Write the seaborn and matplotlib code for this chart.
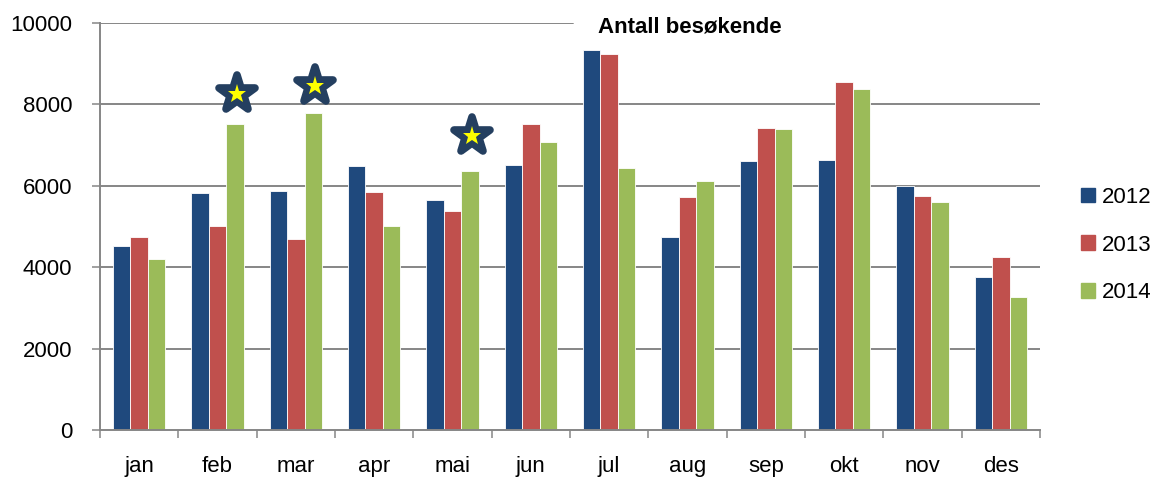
import matplotlib
matplotlib.use('Agg')
import matplotlib.pyplot as plt
from matplotlib.markers import MarkerStyle
import seaborn as sns
import pandas as pd

months = ['jan', 'feb', 'mar', 'apr', 'mai', 'jun', 'jul', 'aug', 'sep', 'okt', 'nov', 'des']
years = ['2012', '2013', '2014']
v2012 = [4520, 5830, 5860, 6480, 5650, 6500, 9330, 4750, 6620, 6630, 5990, 3760]
v2013 = [4740, 5010, 4690, 5840, 5390, 7530, 9230, 5730, 7410, 8550, 5760, 4240]
v2014 = [4200, 7530, 7800, 5000, 6370, 7070, 6440, 6120, 7390, 8390, 5600, 3280]
# stjerner over enkelte søyler (måned, høyde)
star_months = ['feb', 'mar', 'mai']
star_y = [8250, 8440, 7220]
colors = ['#1F497D', '#C0504D', '#9BBB59']
grey = '#868686'

rows = []
for yr, vals in zip(years, [v2012, v2013, v2014]):
    for m, v in zip(months, vals):
        rows.append({'måned': m, 'år': yr, 'besøkende': v})
df = pd.DataFrame(rows)

sns.set_style('white')
plt.rcParams['font.family'] = ['Liberation Sans', 'DejaVu Sans']
plt.rcParams['text.color'] = 'black'
plt.rcParams['xtick.color'] = 'black'
plt.rcParams['ytick.color'] = 'black'

fig = plt.figure(figsize=(11.58, 4.78), dpi=100)
ax = fig.add_axes([100 / 1158, 1 - 430 / 478, 940 / 1158, 407 / 478])

sns.barplot(data=df, x='måned', y='besøkende', hue='år', palette=colors, saturation=1,
            width=0.67, gap=0, edgecolor='white', linewidth=0.6, ax=ax)
ax.get_legend().remove()

ax.set_ylim(0, 10000)
ax.set_xlim(-0.5, len(months) - 0.5)
ax.set_yticks(range(0, 10001, 2000))
ax.set_xlabel('')
ax.set_ylabel('')

# rutenett
for y in range(2000, 10000, 2000):
    ax.axhline(y, color=grey, lw=1.4, zorder=0)
ax.axhline(10000, xmin=0, xmax=(573 - 100) / 940, color=grey, lw=1.4, zorder=0)

for s in ['top', 'right']:
    ax.spines[s].set_visible(False)
for s in ['left', 'bottom']:
    ax.spines[s].set_color(grey)
    ax.spines[s].set_linewidth(1.4)

ax.tick_params(axis='y', length=6, width=1.1, color=grey, pad=14, labelsize=16, left=True)
ax.set_xticks([i - 0.5 for i in range(len(months) + 1)], minor=True)
ax.tick_params(axis='x', which='minor', length=6, width=1.1, color=grey, bottom=True)
ax.tick_params(axis='x', which='major', length=0, pad=19, labelsize=16)

# stjerner: mørk stjerne med gul stjerne oppå
star = MarkerStyle('*', joinstyle='round')
green = ax.containers[2]
for m, y in zip(star_months, star_y):
    bar = green[months.index(m)]
    cx = bar.get_x() + bar.get_width() / 2 + 0.02
    ax.plot(cx, y, marker=star, markersize=27, mfc='#243F60', mec='#243F60',
            mew=5.5, clip_on=False, zorder=5)
    ax.plot(cx, y, marker='*', markersize=14, mfc='#FFFF00', mec='#FFFF00',
            mew=0, clip_on=False, zorder=6)

fig.text(690 / 1158, 1 - 27 / 478, 'Antall besøkende', ha='center', va='center',
         fontsize=16, fontweight='bold')

handles = [plt.Rectangle((0, 0), 1, 1, color=c) for c in colors]
fig.legend(handles, years, loc='center left', bbox_to_anchor=(1081 / 1158, 1 - 245 / 478),
           frameon=False, fontsize=16, handlelength=0.65, handleheight=0.65,
           handletextpad=0.3, labelspacing=1.2, borderpad=0, borderaxespad=0)

fig.savefig('out.png', dpi=100)
